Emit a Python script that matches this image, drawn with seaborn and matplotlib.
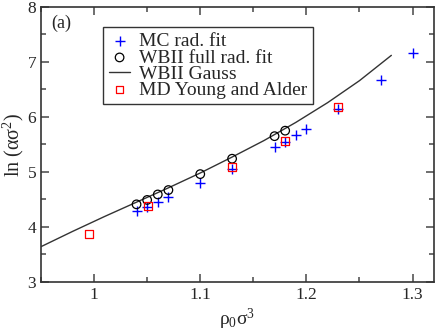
import numpy as np
import pandas as pd
import matplotlib
matplotlib.use("Agg")
import matplotlib.pyplot as plt
import seaborn as sns
from matplotlib.ticker import MultipleLocator

# values
mc_rho = [1.04, 1.05, 1.06, 1.07, 1.10, 1.13, 1.17, 1.18, 1.19, 1.20, 1.23, 1.27, 1.30]
mc_ln = [4.28, 4.37, 4.45, 4.55, 4.79, 5.06, 5.45, 5.55, 5.67, 5.78, 6.14, 6.67, 7.16]

wb_rho = [1.04, 1.05, 1.06, 1.07, 1.10, 1.13, 1.17, 1.18]
wb_ln = [4.41, 4.49, 4.59, 4.67, 4.96, 5.24, 5.65, 5.75]

gauss_rho = [0.95, 0.98, 1.01, 1.04, 1.07, 1.10, 1.13, 1.16, 1.19, 1.22, 1.25, 1.28]
gauss_ln = [3.64, 3.92, 4.19, 4.45, 4.71, 4.98, 5.27, 5.57, 5.90, 6.26, 6.66, 7.12]

md_rho = [0.995, 1.051, 1.13, 1.18, 1.23]
md_ln = [3.87, 4.38, 5.09, 5.56, 6.18]

sns.set_style("ticks")
plt.rcParams['font.family'] = ['Liberation Serif', 'DejaVu Serif']
plt.rcParams['mathtext.fontset'] = 'custom'
plt.rcParams['mathtext.rm'] = 'Liberation Serif'
plt.rcParams['mathtext.it'] = 'Liberation Serif:italic'

fig = plt.figure(figsize=(4.36, 3.32), dpi=100)
ax = fig.add_axes([0.094, 0.151, 0.901, 0.828])

sns.scatterplot(x=mc_rho, y=mc_ln, marker='+', color='blue', s=55, linewidth=1,
                label='MC rad. fit', ax=ax, zorder=3)
sns.scatterplot(x=wb_rho, y=wb_ln, marker='o', facecolor='none', edgecolor='black',
                s=38, linewidth=0.9, label='WBII full rad. fit', ax=ax, zorder=3)
sns.lineplot(x=gauss_rho, y=gauss_ln, color='#333333', linewidth=1,
             label='WBII Gauss', ax=ax, zorder=2)
sns.scatterplot(x=md_rho, y=md_ln, marker='s', facecolor='none', edgecolor='red',
                s=30, linewidth=0.9, label='MD Young and Alder', ax=ax, zorder=3)

ax.set_xlim(0.95, 1.32)
ax.set_ylim(3, 8)
ax.xaxis.set_minor_locator(MultipleLocator(0.05))
ax.yaxis.set_major_locator(MultipleLocator(1))
ax.yaxis.set_minor_locator(MultipleLocator(0.5))
ax.set_xticks([1.0, 1.1, 1.2, 1.3])
ax.set_xticklabels(['1', '1.1', '1.2', '1.3'])
ax.tick_params(which='both', direction='in', top=True, right=True,
               labelsize=12.5, color='#555555', width=1.2)
ax.tick_params(which='major', length=6)
ax.tick_params(which='minor', length=3.5)
for sp in ax.spines.values():
    sp.set_linewidth(1.2)
    sp.set_color('#333333')

ax.set_xlabel(r'$\mathregular{\rho_0\sigma^3}$', fontsize=14, labelpad=3)
ax.set_ylabel(r'ln ($\mathregular{\alpha\sigma^2}$)', fontsize=14.5, labelpad=1)
ax.text(0.969, 7.71, '(a)', fontsize=13, ha='center', va='center')

leg = ax.legend(loc='upper left', bbox_to_anchor=(0.158, 0.927), borderaxespad=0,
                fontsize=14, fancybox=False, framealpha=1, edgecolor='#333333',
                handlelength=1.1, handletextpad=0.45, labelspacing=-0.08,
                borderpad=0.3)
leg.get_frame().set_linewidth(1.0)

fig.savefig('out.png', dpi=100)
